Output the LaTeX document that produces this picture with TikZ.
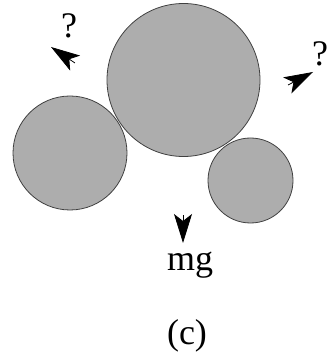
\documentclass[tikz,border=0pt]{standalone}
\usepackage{fontspec}
\setmainfont{Liberation Serif}
\usetikzlibrary{arrows.meta}
\tikzset{
  ball/.style = {circle, draw=black!75, thin, fill=black!32, inner sep=0pt},
  dart/.style = {-{Stealth[length=14.5pt, width=9pt, inset=3.5pt]}, thin},
  lbl/.style = {inner sep=0pt, font=\fontsize{18}{21}\selectfont},
}

\begin{document}
\begin{tikzpicture}[x=0.5pt, y=-0.5pt]
    \useasboundingbox (0,0) rectangle (328,357);

    % Balls
    \node (big) [ball, minimum size=76.5pt] at (183.5,80) {};
    \node (left) [ball, minimum size=57pt] at (70,153) {};
    \node (small) [ball, minimum size=42.5pt] at (250.5,180.5) {};

    % Arrow ends
    \coordinate (lt) at (75,63);
    \coordinate (lh) at (51,47);
    \coordinate (rt) at (288,85);
    \coordinate (rh) at (313,72);
    \coordinate (bt) at (183,215);
    \coordinate (bh) at (183,243);

    % Labels
    \node (lq) [lbl] at (69,26) {?};
    \node (rq) [lbl] at (320,54) {?};
    \node (mg) [lbl, anchor=base] at (190,270) {mg};
    \node (cap) [lbl] at (187,336) {(c)};

    % Arrows
    \draw [dart] (lt) -- (lh);
    \draw [dart] (rt) -- (rh);
    \draw [dart] (bt) -- (bh);
\end{tikzpicture}
\end{document}
